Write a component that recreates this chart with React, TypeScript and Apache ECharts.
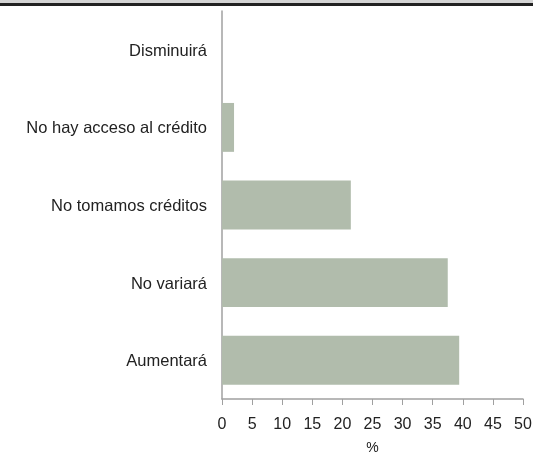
import React, { useEffect, useRef } from "react";
import * as echarts from "echarts";

const categories = ["Aumentará", "No variará", "No tomamos créditos", "No hay acceso al crédito", "Disminuirá"];
const values = [39.4, 37.5, 21.4, 2.0, 0];
const xTicks = { min: 0, max: 50, interval: 5 };

export default function App() {
  const ref = useRef<HTMLDivElement>(null);
  useEffect(() => {
    const chart = echarts.init(ref.current!, null, { renderer: "svg" });
    chart.setOption({
      animation: false,
      textStyle: { fontFamily: "Liberation Sans, Arial, sans-serif" },
      graphic: [
        { type: "rect", left: 0, top: 0, shape: { width: 533, height: 3 }, style: { fill: "#d4d4d4" } },
        { type: "rect", left: 0, top: 3, shape: { width: 533, height: 3 }, style: { fill: "#222222" } },
      ],
      grid: { left: 222, right: 10, top: 11, bottom: 56, containLabel: false, outerBoundsMode: "none" },
      xAxis: {
        type: "value",
        min: xTicks.min,
        max: xTicks.max,
        interval: xTicks.interval,
        name: "%",
        nameLocation: "middle",
        nameGap: 41,
        nameTextStyle: { color: "#222", fontSize: 14 },
        axisLine: { show: true, lineStyle: { color: "#a0a0a0", width: 1.5 } },
        axisTick: { show: true, length: 6, lineStyle: { color: "#a0a0a0" } },
        axisLabel: { color: "#222", fontSize: 16, margin: 16 },
        splitLine: { show: false },
      },
      yAxis: {
        type: "category",
        data: categories,
        axisLine: { show: true, lineStyle: { color: "#a0a0a0", width: 1.5 } },
        axisTick: { show: false },
        axisLabel: { color: "#222", fontSize: 16.5, margin: 15 },
      },
      series: [
        {
          type: "bar",
          data: values,
          barWidth: "63%",
          itemStyle: { color: "#b1bcac" },
        },
      ],
    });
    return () => chart.dispose();
  }, []);
  return <div ref={ref} style={{ position: "fixed", left: 0, top: 0, width: 533, height: 455 }} />;
}
